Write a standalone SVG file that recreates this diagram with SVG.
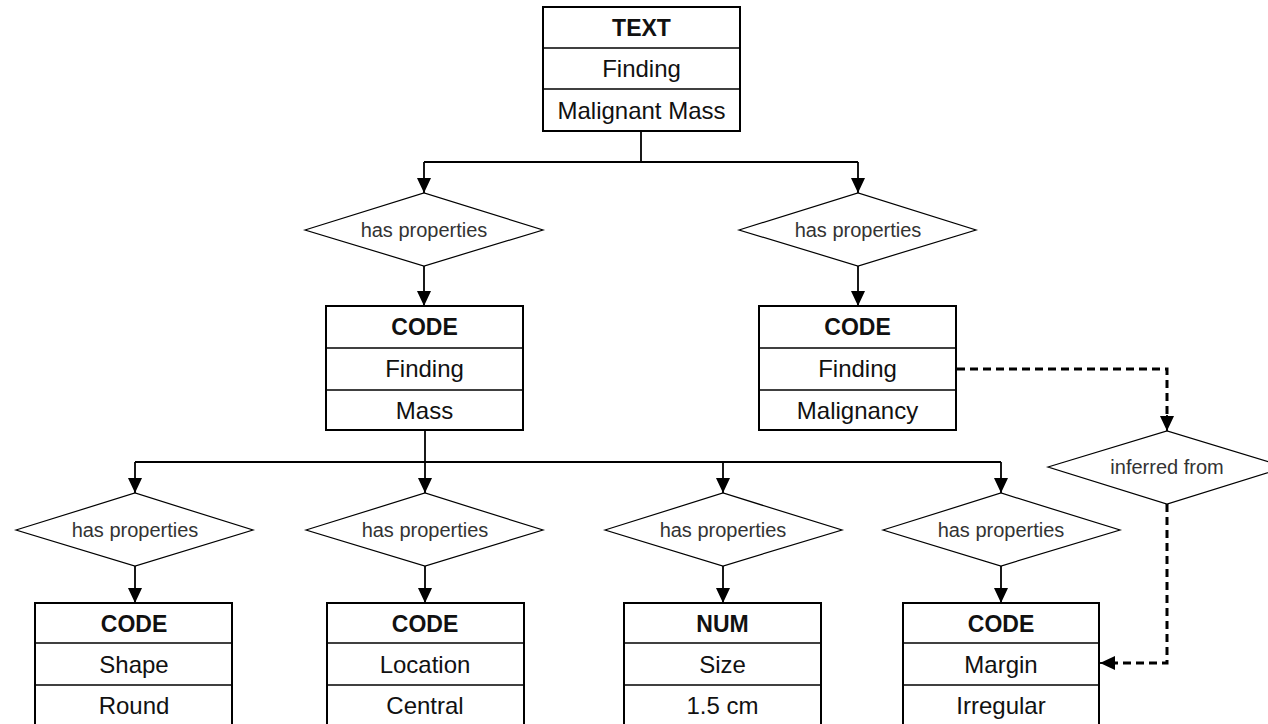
<svg xmlns="http://www.w3.org/2000/svg" width="1268" height="724" viewBox="0 0 1268 724">
<defs>
<marker id="arr" viewBox="0 0 15 14" refX="15" refY="7" markerWidth="15" markerHeight="14" markerUnits="userSpaceOnUse" orient="auto">
<path d="M0,0 L15,7 L0,14 Z" fill="#000"/>
</marker>
<style>
.box{fill:#fff;stroke:#000;stroke-width:2}
.div{stroke:#000;stroke-width:1.5}
.dia{fill:#fff;stroke:#000;stroke-width:1.2}
.t{font-family:"Liberation Sans",Arial,sans-serif;font-size:24px;text-anchor:middle;fill:#111}
.h{font-weight:bold;font-size:23px}
.d{font-family:"Liberation Sans",Arial,sans-serif;font-size:20px;text-anchor:middle;fill:#333}
.c{fill:none;stroke:#000;stroke-width:1.8}
.dash{fill:none;stroke:#000;stroke-width:3;stroke-dasharray:8,5}
</style>
</defs>
<rect width="1268" height="724" fill="#fff"/>

<g id="connectors">
<path class="c" d="M641,131 V162"/>
<path class="c" d="M424,162 H858"/>
<path class="c" d="M424,162 V193" marker-end="url(#arr)"/>
<path class="c" d="M858,162 V193" marker-end="url(#arr)"/>
<path class="c" d="M424,266 V306" marker-end="url(#arr)"/>
<path class="c" d="M858,266 V306" marker-end="url(#arr)"/>
<path class="c" d="M425,430 V462"/>
<path class="c" d="M135,462 H1001"/>
<path class="c" d="M135,462 V493" marker-end="url(#arr)"/>
<path class="c" d="M425,462 V493" marker-end="url(#arr)"/>
<path class="c" d="M723,462 V493" marker-end="url(#arr)"/>
<path class="c" d="M1001,462 V493" marker-end="url(#arr)"/>
<path class="c" d="M135,566 V603" marker-end="url(#arr)"/>
<path class="c" d="M425,566 V603" marker-end="url(#arr)"/>
<path class="c" d="M723,566 V603" marker-end="url(#arr)"/>
<path class="c" d="M1001,566 V603" marker-end="url(#arr)"/>
<path class="dash" d="M957,369 H1167 V417"/>
<path class="c" d="M1167,415 V431" marker-end="url(#arr)"/>
<path class="dash" d="M1167,504 V663 H1115"/>
<path class="c" d="M1117,663 H1100" marker-end="url(#arr)"/>
</g>

<g id="node-text">
<rect class="box" x="543" y="7" width="197" height="124"/>
<line class="div" x1="543" y1="48" x2="740" y2="48"/>
<line class="div" x1="543" y1="89" x2="740" y2="89"/>
<text class="t h" x="641.5" y="36">TEXT</text>
<text class="t" x="641.5" y="77">Finding</text>
<text class="t" x="641.5" y="119">Malignant Mass</text>
</g>

<g id="dia-left">
<polygon class="dia" points="305,230 424,193 543,230 424,266"/>
<text class="d" x="424" y="237">has properties</text>
</g>
<g id="dia-right">
<polygon class="dia" points="739,230 858,193 976,230 858,266"/>
<text class="d" x="858" y="237">has properties</text>
</g>

<g id="node-mass">
<rect class="box" x="326" y="306" width="197" height="124"/>
<line class="div" x1="326" y1="348" x2="523" y2="348"/>
<line class="div" x1="326" y1="390" x2="523" y2="390"/>
<text class="t h" x="424.5" y="335">CODE</text>
<text class="t" x="424.5" y="377">Finding</text>
<text class="t" x="424.5" y="419">Mass</text>
</g>
<g id="node-malignancy">
<rect class="box" x="759" y="306" width="197" height="124"/>
<line class="div" x1="759" y1="348" x2="956" y2="348"/>
<line class="div" x1="759" y1="390" x2="956" y2="390"/>
<text class="t h" x="857.5" y="335">CODE</text>
<text class="t" x="857.5" y="377">Finding</text>
<text class="t" x="857.5" y="419">Malignancy</text>
</g>

<g id="dia-inferred">
<polygon class="dia" points="1048,467 1167,431 1286,467 1167,504"/>
<text class="d" x="1167" y="474">inferred from</text>
</g>

<g id="dia-b1">
<polygon class="dia" points="16,530 135,493 253,530 135,566"/>
<text class="d" x="135" y="537">has properties</text>
</g>
<g id="dia-b2">
<polygon class="dia" points="306,530 425,493 543,530 425,566"/>
<text class="d" x="425" y="537">has properties</text>
</g>
<g id="dia-b3">
<polygon class="dia" points="605,530 723,493 842,530 723,566"/>
<text class="d" x="723" y="537">has properties</text>
</g>
<g id="dia-b4">
<polygon class="dia" points="883,530 1001,493 1120,530 1001,566"/>
<text class="d" x="1001" y="537">has properties</text>
</g>

<g id="node-shape">
<rect class="box" x="35" y="603" width="197" height="124"/>
<line class="div" x1="35" y1="643" x2="232" y2="643"/>
<line class="div" x1="35" y1="685" x2="232" y2="685"/>
<text class="t h" x="134" y="632">CODE</text>
<text class="t" x="134" y="673">Shape</text>
<text class="t" x="134" y="714">Round</text>
</g>
<g id="node-location">
<rect class="box" x="327" y="603" width="197" height="124"/>
<line class="div" x1="327" y1="643" x2="524" y2="643"/>
<line class="div" x1="327" y1="685" x2="524" y2="685"/>
<text class="t h" x="425" y="632">CODE</text>
<text class="t" x="425" y="673">Location</text>
<text class="t" x="425" y="714">Central</text>
</g>
<g id="node-size">
<rect class="box" x="624" y="603" width="197" height="124"/>
<line class="div" x1="624" y1="643" x2="821" y2="643"/>
<line class="div" x1="624" y1="685" x2="821" y2="685"/>
<text class="t h" x="722.5" y="632">NUM</text>
<text class="t" x="722.5" y="673">Size</text>
<text class="t" x="722.5" y="714">1.5 cm</text>
</g>
<g id="node-margin">
<rect class="box" x="903" y="603" width="196" height="124"/>
<line class="div" x1="903" y1="643" x2="1099" y2="643"/>
<line class="div" x1="903" y1="685" x2="1099" y2="685"/>
<text class="t h" x="1001" y="632">CODE</text>
<text class="t" x="1001" y="673">Margin</text>
<text class="t" x="1001" y="714">Irregular</text>
</g>
</svg>
